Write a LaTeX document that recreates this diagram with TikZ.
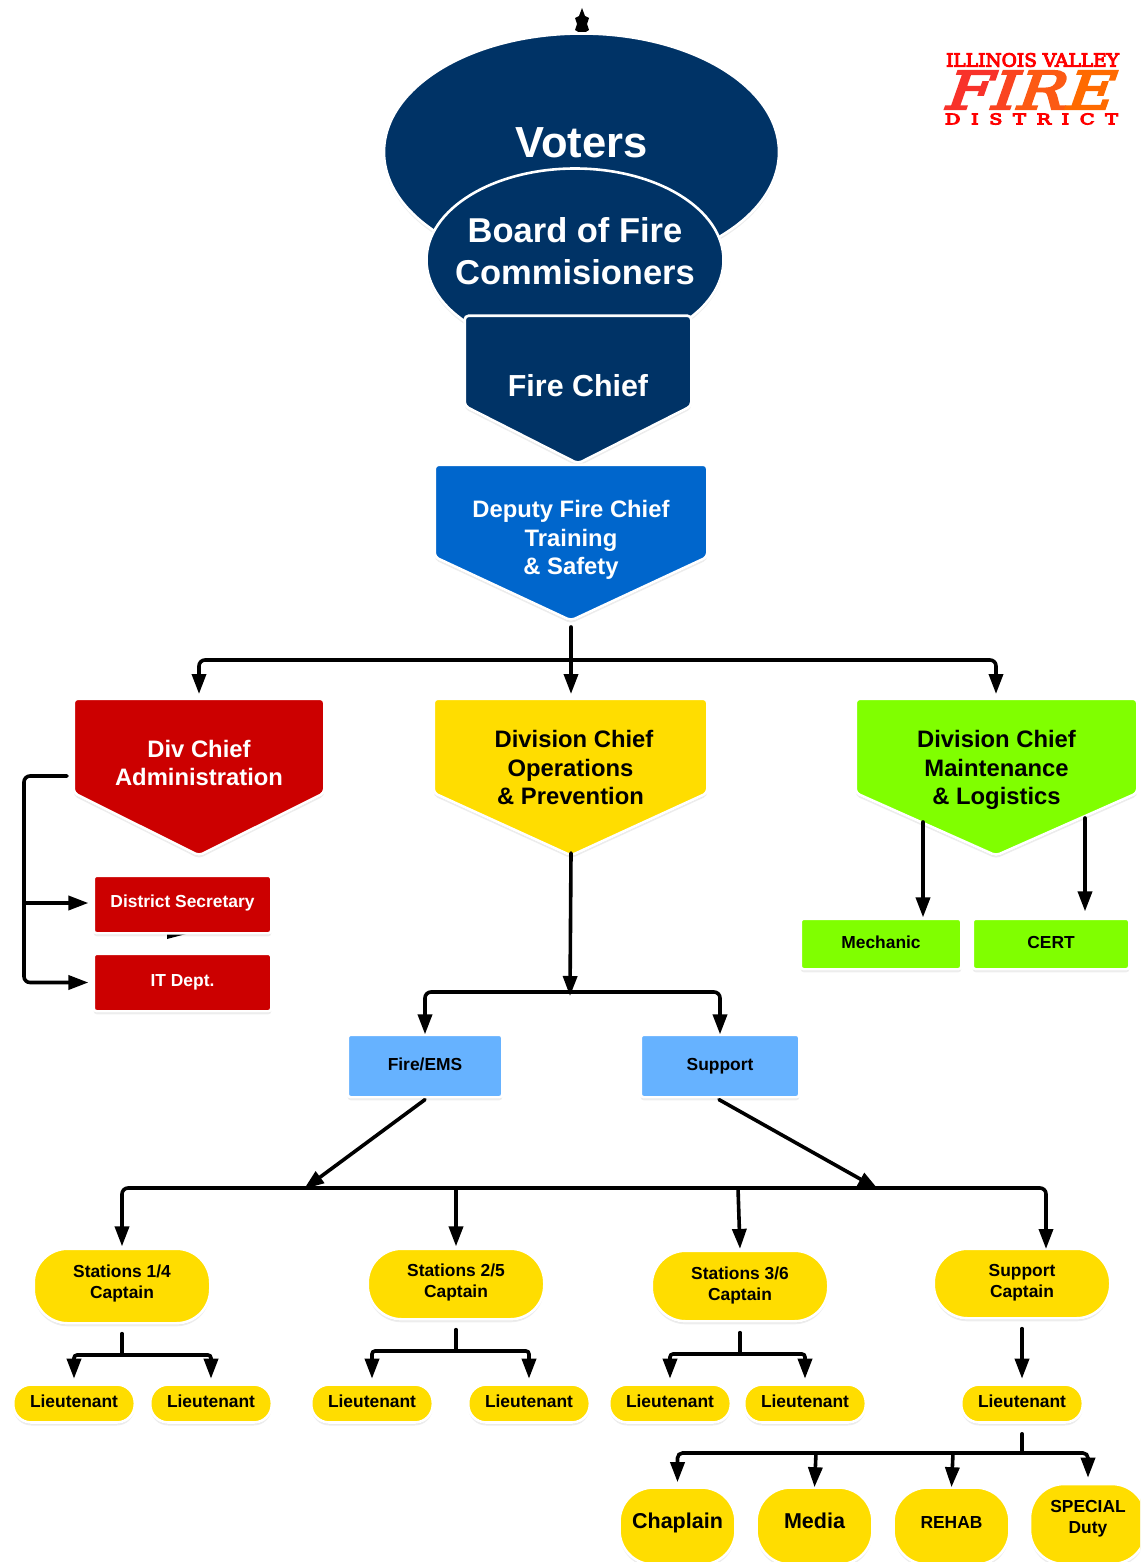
\documentclass[tikz,border=0pt]{standalone}
\usepackage{fontspec}
\usepackage{graphicx}
\setmainfont{Liberation Sans}
\newfontfamily\logofont[FakeBold=5]{DejaVu Serif}
\newfontfamily\logoitalic[FakeBold=4,FakeSlant=0.28]{DejaVu Serif}
\newfontfamily\logospaced[FakeBold=6,LetterSpace=55]{DejaVu Serif}
\usetikzlibrary{arrows.meta,shapes.geometric,shadows,calc}
\definecolor{navy}{HTML}{003366}
\definecolor{deputyblue}{HTML}{0066CC}
\definecolor{firered}{HTML}{CC0000}
\definecolor{gold}{HTML}{FFDD00}
\definecolor{lime}{HTML}{80FF00}
\definecolor{skyblue}{HTML}{66B2FF}
\newcommand{\fs}[2]{\fontsize{#1}{#2}\selectfont\bfseries}
% move the text up inside its node without changing the node
\newcommand{\up}[2]{\raisebox{#1pt}[\height][\depth]{\begin{tabular}{@{}c@{}}#2\end{tabular}}}
\tikzset{
  softshadow/.style={general shadow={shadow xshift=0pt,shadow yshift=-3pt,fill=black,opacity=.07},
                     general shadow={shadow xshift=0pt,shadow yshift=-1.5pt,fill=black,opacity=.09}},
  card/.style={draw=white,line width=2.6pt,softshadow},
  box/.style={card,rectangle,rounded corners=3pt,inner sep=0pt,align=center,font=\fs{17.4}{21}},
  capsule/.style={box,fill=gold,text=black},
  lieut/.style={capsule,rounded corners=18pt,minimum width=121.6pt,minimum height=38pt},
  captain/.style={capsule,rounded corners=34pt,minimum width=176.6pt},
  barrel/.style={capsule,rounded corners=34pt,minimum width=116pt,minimum height=77pt},
  label/.style={inner sep=0pt,align=center},
  arr/.style={line width=3.6pt,draw=black,line cap=round,-{Triangle[length=20pt,width=14pt]}},
  wire/.style={line width=3.6pt,draw=black,line cap=round},
}
% name, fill, left, right, top, shoulder, tip x, tip y
\newcommand{\pentagon}[8]{%
  \path[card,fill=#2,rounded corners=4pt] ({#3-1.3},{#5-1.3}) -- ({#4+1.3},{#5-1.3}) -- ({#4+1.3},{#6+1}) -- ({#7},{#8+2.5}) -- ({#3-1.3},{#6+1}) -- cycle;
  \coordinate (#1-tip) at (#7,#8);
}
\begin{document}
\begin{tikzpicture}[x=1pt,y=-1pt]
\useasboundingbox (0,0) rectangle (1140,1562);
\clip (0,0) rectangle (1140,1562);
\fill[white] (0,0) rectangle (1140,1562);

% stacked arrowheads above the Voters
\fill[black] (582,8) -- (585,16) -- (589,18) -- (587,24) -- (589,30) -- (584,33) -- (580,33) -- (575,30) -- (577,24) -- (575,18) -- (579,16) -- cycle;

% logo
\node[label,text=red] (logotop) at (1032.5,60) {\resizebox{173pt}{13.5pt}{\logofont ILLINOIS VALLEY}};
\node[label] (logofire) at (1025.6,90) {\resizebox{168pt}{38pt}{\logoitalic\textcolor[HTML]{F8322A}{F}\textcolor[HTML]{FA4420}{I}\textcolor[HTML]{FC5A14}{R}\textcolor[HTML]{FF6A00}{E}}};
\node[label,text=red] (logobottom) at (1031.5,119) {\resizebox{173pt}{11pt}{\logospaced DISTRICT}};

% top of the hierarchy
\node[card,ellipse,fill=navy,minimum width=395pt,minimum height=237pt,inner sep=0pt] (voters) at (581.5,152) {};
\node[label,text=white,font=\fs{43.5}{46}] (voterstext) at (581.5,143) {Voters};
\node[card,ellipse,fill=navy,minimum width=297pt,minimum height=183pt,inner sep=0pt] (board) at (575,260) {};
\node[label,text=white,font=\fs{34.5}{41.5}] (boardtext) at (575,251) {Board of Fire\\Commisioners};
\pentagon{chief}{navy}{466}{690}{317}{405}{578}{461}
\node[label,text=white,font=\fs{30.4}{36}] (chieftext) at (578,386) {Fire Chief};
\pentagon{deputy}{deputyblue}{436}{706}{466}{556}{571}{618}
\node[label,text=white,font=\fs{23.8}{28.7}] (deputytext) at (571,540) {Deputy Fire Chief\\Training\\\& Safety};

% divisions
\pentagon{admin}{firered}{75}{323}{700}{792}{199}{853}
\node[label,text=white,font=\fs{23.8}{28.7}] (admintext) at (199,763) {Div Chief\\Administration};
\pentagon{ops}{gold}{435}{706}{700}{792}{571}{853}
\node[label,text=black,font=\fs{23.8}{28.7}] (opstext) at (570.5,767.5) {\hspace*{7pt}Division Chief\\Operations\\\& Prevention};
\pentagon{maint}{lime}{857}{1136}{700}{792}{996}{853}
\node[label,text=black,font=\fs{23.8}{28.7}] (mainttext) at (996.5,770) {Division Chief\\Maintenance\\\& Logistics};

% fragment of an arrowhead showing below District Secretary
\fill[black] (167,939) -- (186,934) -- (167,932) -- cycle;

\node[box,fill=firered,text=white,minimum width=177.6pt,minimum height=57.6pt] (secretary) at (182.5,904.5) {\up{1.5}{District Secretary}};
\node[box,fill=firered,text=white,minimum width=177.6pt,minimum height=57.6pt] (it) at (182.5,982.5) {\up{0.5}{IT Dept.}};
\node[box,fill=lime,text=black,minimum width=160.6pt,minimum height=50.6pt] (mechanic) at (881,944) {\up{0}{Mechanic}};
\node[box,fill=lime,text=black,minimum width=156.6pt,minimum height=50.6pt] (cert) at (1051,944) {\up{0}{CERT}};
\node[box,fill=skyblue,text=black,minimum width=154.6pt,minimum height=62.6pt] (fireems) at (425,1066) {\up{0}{Fire/EMS}};
\node[box,fill=skyblue,text=black,minimum width=158.6pt,minimum height=62.6pt] (support) at (720,1066) {Support};

% captains
\node[captain,minimum height=74.6pt] (cap1) at (122,1286) {\up{2}{Stations 1/4\\Captain}};
\node[captain,minimum height=70.6pt] (cap2) at (456,1284) {\up{1}{Stations 2/5\\Captain}};
\node[captain,minimum height=70.6pt] (cap3) at (740,1286) {\up{0}{Stations 3/6\\Captain}};
\node[captain,minimum height=69.6pt] (cap4) at (1022,1283.5) {\up{1}{Support\\Captain}};

% lieutenants
\node[lieut] (l1) at (74,1403.5) {\up{0}{Lieutenant}};
\node[lieut] (l2) at (211,1403.5) {\up{0}{Lieutenant}};
\node[lieut] (l3) at (372,1403.5) {\up{0}{Lieutenant}};
\node[lieut] (l4) at (529,1403.5) {\up{0}{Lieutenant}};
\node[lieut] (l5) at (670,1403.5) {\up{0}{Lieutenant}};
\node[lieut] (l6) at (805,1403.5) {\up{0}{Lieutenant}};
\node[lieut] (l7) at (1022,1403.5) {\up{0}{Lieutenant}};

% special units
\node[barrel,font=\fs{21.5}{25}] (chaplain) at (677.5,1526) {\up{3}{Chaplain}};
\node[barrel,font=\fs{21.5}{25}] (media) at (814.5,1526) {\up{3}{Media}};
\node[barrel] (rehab) at (951.5,1526) {\up{2}{REHAB}};
\node[barrel,minimum height=80pt] (special) at (1088,1524) {\up{5}{SPECIAL\\Duty}};

% connector junctions
\coordinate (busA) at (571,660);
\coordinate (adminOut) at (67,776);
\coordinate (railA) at (24,776);
\coordinate (railB) at (24,903);
\coordinate (opsBus) at (570,992);
\coordinate (opsEnd) at (570,996);
\coordinate (bus) at (456,1188);
\coordinate (busL) at (304,1189);
\coordinate (busR) at (878,1189);
\coordinate (bus3) at (738,1188);
\coordinate (j1) at (122,1355);
\coordinate (j2) at (456,1351);
\coordinate (j3) at (740,1354);
\coordinate (j4) at (1022,1453);

% connectors
\draw[wire] ($(deputy-tip)+(0,9)$) -- (busA);
\draw[arr,rounded corners=6pt] (busA) -| (199,694);
\draw[arr,rounded corners=6pt] (busA) -| (996,694);
\draw[arr] (busA) -- (571,694);

\draw[arr,rounded corners=6pt] (adminOut) -- (railA) |- ([xshift=-4pt]it.west);
\draw[arr] (railB) -- ([xshift=-4pt]secretary.west |- railB);

\draw[arr] (ops-tip) -- (opsEnd);
\draw[arr,rounded corners=6pt] (opsBus) -| ([yshift=-1pt]fireems.north);
\draw[arr,rounded corners=6pt] (opsBus) -| ([yshift=-1pt]support.north);

\draw[arr] (923,822) -- ([yshift=0pt]mechanic.north -| 923,0);
\draw[arr] (1085,818) -- ([yshift=6pt]cert.north -| 1085,0);

\draw[arr] ([yshift=-1pt]fireems.south) -- (busL);
\draw[arr] ([yshift=-1pt,xshift=-1pt]support.south) -- (busR);
\draw[arr,rounded corners=6pt] (bus) -| ([yshift=1pt]cap1.north);
\draw[arr] (bus) -- ([yshift=1pt]cap2.north);
\draw[arr,rounded corners=6pt] (bus) -| (1046,1249);
\draw[arr] (bus3) -- ([yshift=0.5pt]cap3.north);

\draw[wire] ([yshift=-9pt]cap1.south) -- (j1);
\draw[arr,rounded corners=3pt] (j1) -| ([yshift=4.5pt]l1.north);
\draw[arr,rounded corners=3pt] (j1) -| ([yshift=4.5pt]l2.north);
\draw[wire] ([yshift=-9pt]cap2.south) -- (j2);
\draw[arr,rounded corners=3pt] (j2) -| ([yshift=4.5pt]l3.north);
\draw[arr,rounded corners=3pt] (j2) -| ([yshift=4.5pt]l4.north);
\draw[wire] ([yshift=-10pt]cap3.south) -- (j3);
\draw[arr,rounded corners=3pt] (j3) -| ([yshift=4.5pt]l5.north);
\draw[arr,rounded corners=3pt] (j3) -| ([yshift=4.5pt]l6.north);
\draw[arr] ([yshift=-9pt]cap4.south) -- ([yshift=4.5pt]l7.north);

\draw[wire] ([yshift=-10pt]l7.south) -- (j4);
\draw[arr,rounded corners=5pt] (j4) -| ([yshift=4pt]chaplain.north);
\draw[arr,rounded corners=5pt] (j4) -| ([yshift=5pt]special.north);
\draw[arr] (816,1453) -- ([yshift=-1pt]media.north);
\draw[arr] (953,1453) -- ([yshift=-1pt]rehab.north);
\end{tikzpicture}
\end{document}
